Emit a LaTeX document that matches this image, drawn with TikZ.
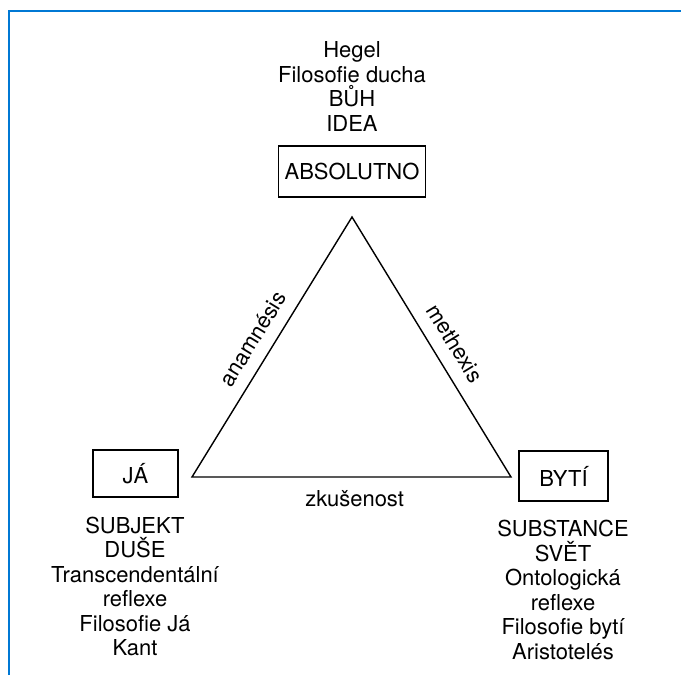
\documentclass[tikz,border=0pt]{standalone}
\usepackage{fontspec}
\setmainfont{TeX Gyre Heros}
\usetikzlibrary{positioning}

\definecolor{frameblue}{RGB}{0,120,212}

\tikzset{
  concept/.style={draw, line width=0.7pt},
  notes/.style={align=center},
}

\begin{document}
\begin{tikzpicture}[x=2mm, y=2mm, font=\fontsize{12.5}{13.9}\selectfont]
  \useasboundingbox (0,0) rectangle (68.1,67.5);
  % frame, only the left and top edges show
  \draw[frameblue, line width=1.1pt] (0.9,0) -- (0.9,66.4) -- (68.1,66.4);

  \node[concept, minimum width=29.2mm, minimum height=10.2mm] (abs) at (35.2,50.35) {ABSOLUTNO};
  \node[concept, minimum width=17mm, minimum height=9.4mm] (ja) at (13.55,20.15) {JÁ};
  \node[concept, minimum width=17.8mm, minimum height=10mm] (byti) at (56.35,19.9) {BYTÍ};

  \node[notes] (absTxt) at (35.2,58.85) {Hegel\\Filosofie ducha\\BŮH\\IDEA};
  \node[notes] (jaTxt) at (13.5,8.85) {SUBJEKT\\DUŠE\\Transcendentální\\reflexe\\Filosofie Já\\Kant};
  \node[notes] (bytiTxt) at (56.3,8.5) {SUBSTANCE\\SVĚT\\Ontologická\\reflexe\\Filosofie bytí\\Aristotelés};

  \coordinate (vA) at (35.2,45.8);
  \coordinate (vJ) at (19.2,19.8);
  \coordinate (vB) at (51.1,19.8);

  \draw[line width=0.8pt] (vJ) -- node[pos=0.49, sloped, above=1.2mm] {anamnésis}
    (vA) -- node[pos=0.53, sloped, above=1.5mm] {methexis}
    (vB) -- node[pos=0.49, below=1.3mm] {zkušenost} cycle;
\end{tikzpicture}
\end{document}
